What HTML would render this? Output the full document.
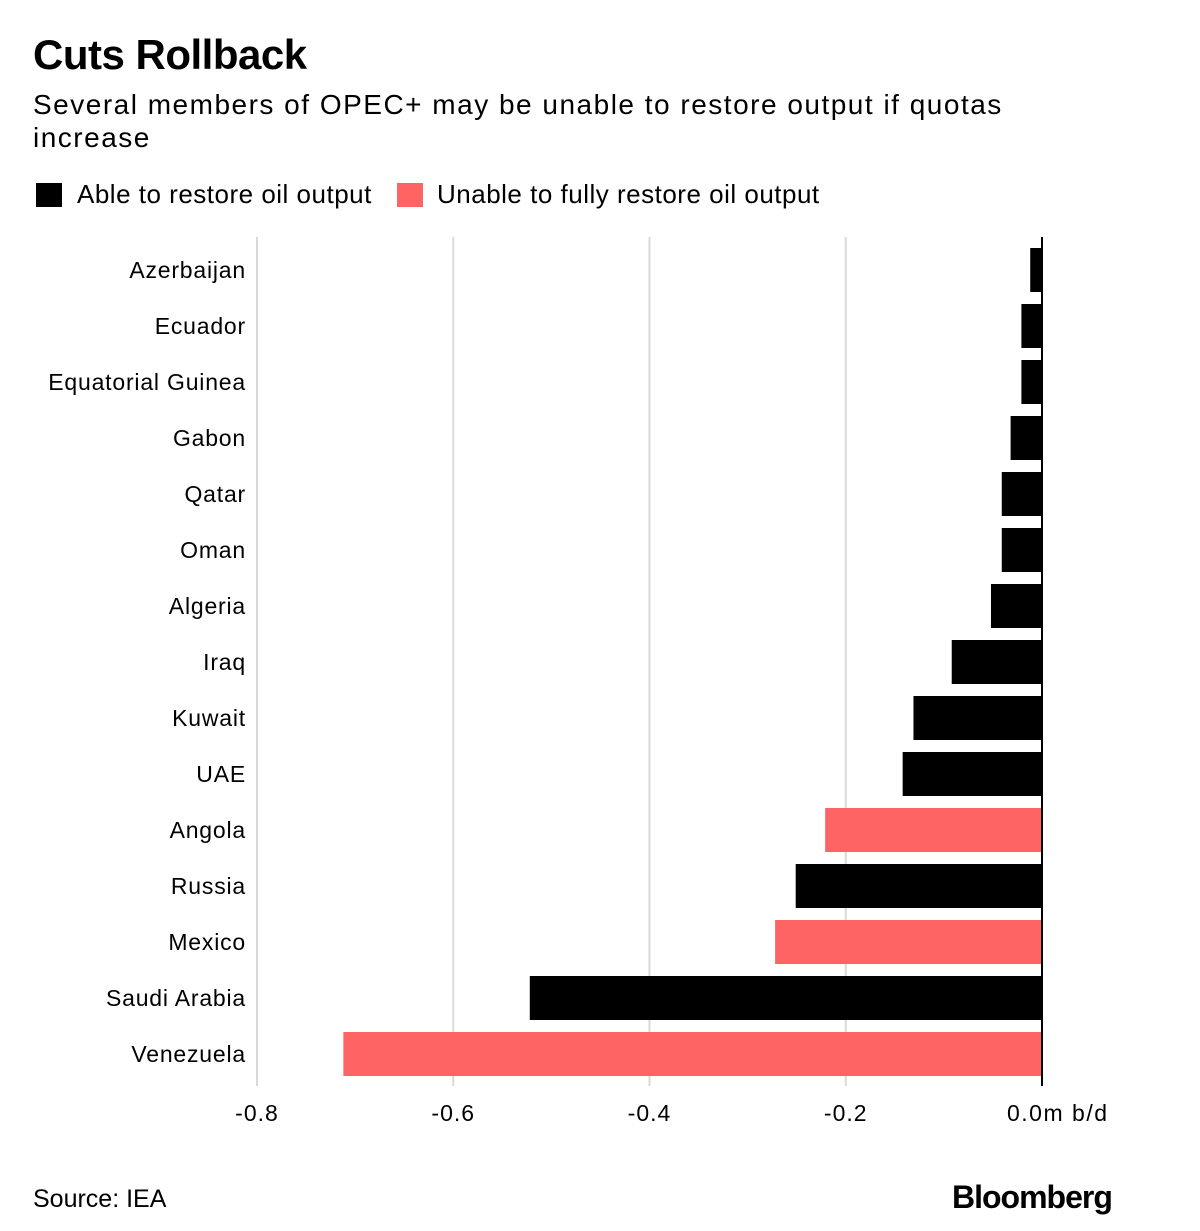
<!DOCTYPE html>
<html><head><meta charset="utf-8"><style>
body{margin:0;background:#fff;font-family:"Liberation Sans",sans-serif;color:#000}
#wrap{position:relative;width:1200px;height:1231px;overflow:hidden}
.t{position:absolute;white-space:nowrap}
</style></head><body><div id="wrap">
<div class="t" style="left:33px;top:31px;font-size:42px;font-weight:bold;letter-spacing:-0.5px">Cuts Rollback</div>
<div class="t" style="left:33px;top:88px;font-size:28px;line-height:33px;letter-spacing:1.5px">Several members of OPEC+ may be unable to restore output if quotas<br>increase</div>
<div>
<div style="position:absolute;left:36px;top:183px;width:26px;height:24px;background:#000"></div>
<div class="t" style="left:77px;top:179px;font-size:26px;letter-spacing:0.5px">Able to restore oil output</div>
<div style="position:absolute;left:397px;top:183px;width:26px;height:24px;background:#ff6464"></div>
<div class="t" style="left:437px;top:179px;font-size:26px;letter-spacing:0.5px">Unable to fully restore oil output</div>
</div>
<svg id="plot" width="1200" height="1231" style="position:absolute;left:0;top:0"></svg>
<div class="t" style="left:33px;top:1185px;font-size:25px">Source: IEA</div>
<div class="t" style="left:952px;top:1179px;font-size:32px;font-weight:bold;letter-spacing:-1px">Bloomberg</div>
</div>
<script>
const categories=["Azerbaijan","Ecuador","Equatorial Guinea","Gabon","Qatar","Oman","Algeria","Iraq","Kuwait","UAE","Angola","Russia","Mexico","Saudi Arabia","Venezuela"];
const values=[-0.012,-0.021,-0.021,-0.032,-0.041,-0.041,-0.052,-0.092,-0.131,-0.142,-0.221,-0.251,-0.272,-0.522,-0.712];
const unable=[false,false,false,false,false,false,false,false,false,false,true,false,true,false,true];
const ticks=[-0.8,-0.6,-0.4,-0.2,0];
const tickLabels=["-0.8","-0.6","-0.4","-0.2","0.0m b/d"];
const ns="http://www.w3.org/2000/svg",svg=document.getElementById('plot');
const x=v=>1042+v*981.25;
const y=i=>248+i*56;
const top0=237,bot=1086;
function mk(t,a){const e=document.createElementNS(ns,t);for(const k in a)e.setAttribute(k,a[k]);svg.appendChild(e);return e;}
ticks.forEach((t,i)=>{
 if(t!==0){const g=mk('line',{x1:x(t),x2:x(t),y1:top0,y2:bot,stroke:'#d9d9d9','stroke-width':2});
 
 }
 const tx=mk('text',{x:t===0?1007:x(t),y:1121,'font-size':23,'letter-spacing':t===0?1.5:1,'text-anchor':t===0?'start':'middle','font-family':'Liberation Sans, sans-serif'});
 tx.textContent=tickLabels[i];
 
 
});
categories.forEach((c,i)=>{
 const v=values[i];
 const r=mk('rect',{x:x(v),y:y(i),width:x(0)-x(v),height:44,fill:unable[i]?'#ff6464':'#000'});
 
 
 const l=mk('text',{x:246,y:y(i)+30,'font-size':23,'letter-spacing':0.8,'text-anchor':'end','font-family':'Liberation Sans, sans-serif'});
 l.textContent=c;
 
 
});
const z=mk('line',{x1:x(0),x2:x(0),y1:top0,y2:bot,stroke:'#000','stroke-width':2});


</script></body></html>
